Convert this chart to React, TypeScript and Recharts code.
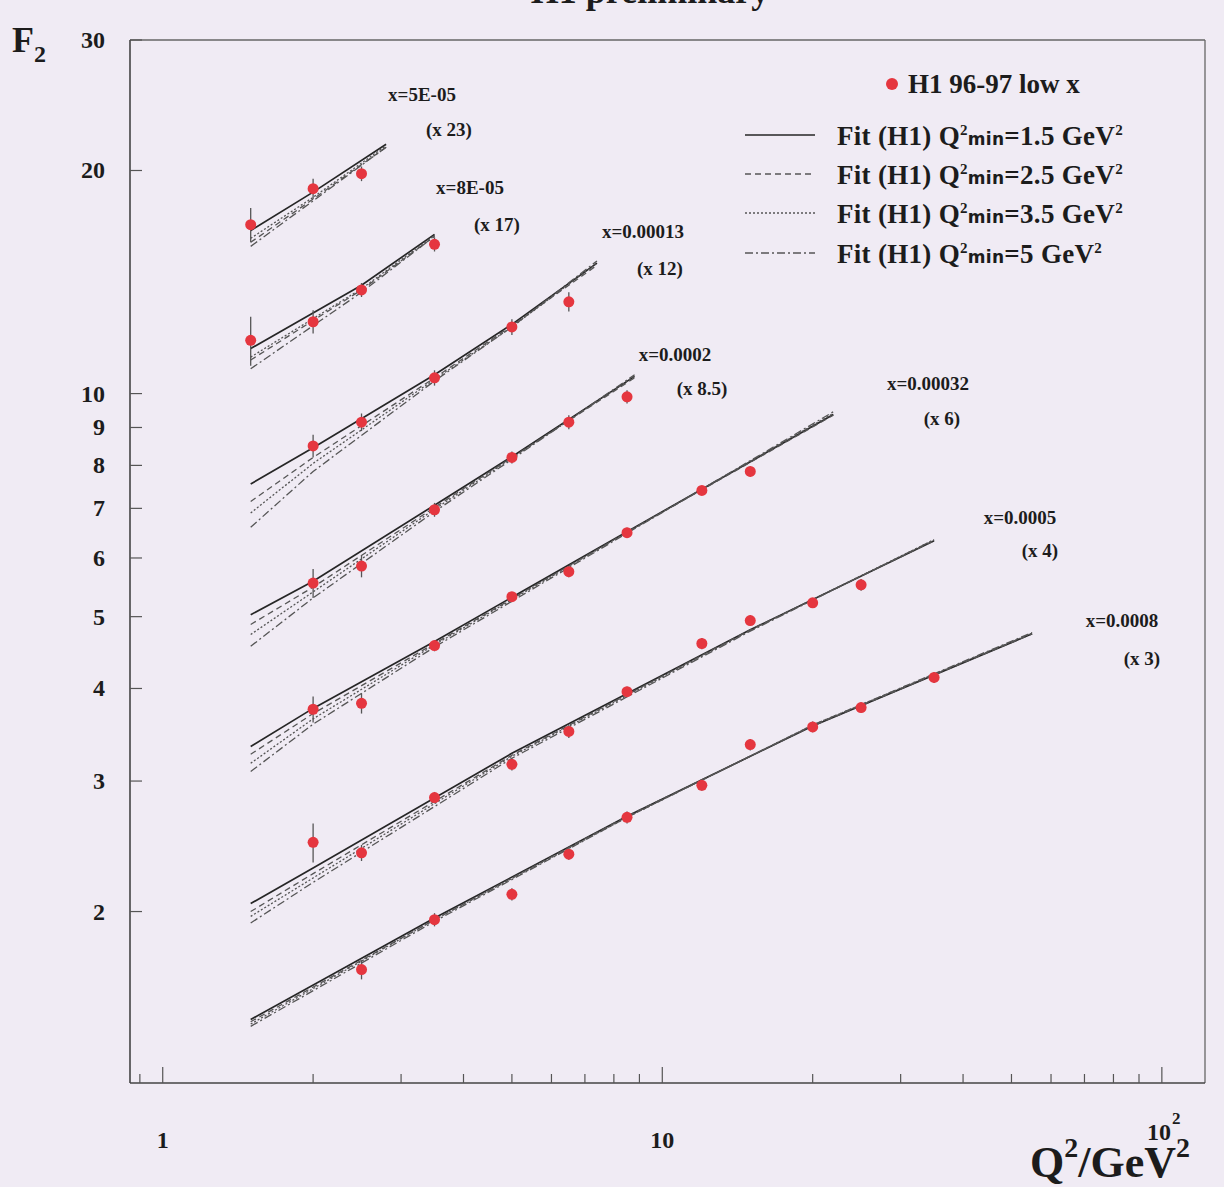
import { ComposedChart, Line, Scatter, XAxis, YAxis, ErrorBar, ReferenceLine } from 'recharts';

// bins in Bjorken x, each scaled for display
const binLabels = ['x=5E-05', 'x=8E-05', 'x=0.00013', 'x=0.0002', 'x=0.00032', 'x=0.0005', 'x=0.0008'];
const binScales = ['(x 23)', '(x 17)', '(x 12)', '(x 8.5)', '(x 6)', '(x 4)', '(x 3)'];

// H1 96-97 low x measurements
const dataQ2 = [
  [1.5, 2, 2.5],
  [1.5, 2, 2.5, 3.5],
  [2, 2.5, 3.5, 5, 6.5],
  [2, 2.5, 3.5, 5, 6.5, 8.5],
  [2, 2.5, 3.5, 5, 6.5, 8.5, 12, 15],
  [2, 2.5, 3.5, 5, 6.5, 8.5, 12, 15, 20, 25],
  [2.5, 3.5, 5, 6.5, 8.5, 12, 15, 20, 25, 35],
];
const dataF2 = [
  [16.9, 18.9, 19.8],
  [11.8, 12.5, 13.8, 15.9],
  [8.5, 9.15, 10.5, 12.3, 13.3],
  [5.55, 5.85, 6.97, 8.2, 9.15, 9.9],
  [3.75, 3.82, 4.57, 5.32, 5.75, 6.49, 7.4, 7.85],
  [2.48, 2.4, 2.85, 3.16, 3.5, 3.96, 4.6, 4.94, 5.22, 5.52],
  [1.67, 1.95, 2.11, 2.39, 2.68, 2.96, 3.36, 3.55, 3.77, 4.14],
];
const dataErr = [
  [0.9, 0.6, 0.45],
  [0.9, 0.45, 0.3, 0.35],
  [0.3, 0.25, 0.25, 0.3, 0.4],
  [0.25, 0.2, 0.15, 0.15, 0.2, 0.2],
  [0.15, 0.12, 0.08, 0.08, 0.1, 0.1, 0.1, 0.12],
  [0.15, 0.06, 0.05, 0.06, 0.07, 0.06, 0.08, 0.08, 0.08, 0.1],
  [0.05, 0.04, 0.04, 0.04, 0.05, 0.05, 0.06, 0.06, 0.06, 0.07],
];

// QCD fits, read at a few Q2 values per bin
const fitQ2 = [
  [1.5, 2, 2.8],
  [1.5, 2.5, 3.5],
  [1.5, 2, 3.5, 5, 7.4],
  [1.5, 2, 3.5, 5, 8.8],
  [1.5, 2, 3.5, 8.5, 22],
  [1.5, 2, 5, 15, 35],
  [1.5, 3.5, 8.5, 20, 55],
];
const fitQmin15 = [
  [16.6, 18.7, 21.7],
  [11.5, 14.0, 16.4],
  [7.55, 8.45, 10.6, 12.4, 15.0],
  [5.03, 5.58, 7.07, 8.22, 10.55],
  [3.34, 3.76, 4.63, 6.51, 9.37],
  [2.05, 2.29, 3.27, 4.8, 6.33],
  [1.43, 1.96, 2.69, 3.56, 4.74],
];
const fitQmin25 = [
  [16.0, 18.3, 21.5],
  [11.1, 13.8, 16.3],
  [7.15, 8.2, 10.5, 12.35, 14.9],
  [4.88, 5.48, 7.02, 8.2, 10.5],
  [3.26, 3.7, 4.6, 6.5, 9.35],
  [2.0, 2.25, 3.25, 4.8, 6.33],
  [1.42, 1.95, 2.69, 3.56, 4.74],
];
const fitQmin35 = [
  [16.2, 18.4, 21.6],
  [11.2, 13.85, 16.35],
  [6.9, 8.05, 10.45, 12.3, 15.0],
  [4.73, 5.4, 6.98, 8.18, 10.55],
  [3.17, 3.64, 4.58, 6.5, 9.4],
  [1.97, 2.22, 3.24, 4.79, 6.35],
  [1.41, 1.95, 2.68, 3.57, 4.75],
];
const fitQmin5 = [
  [15.8, 18.2, 21.5],
  [10.8, 13.7, 16.3],
  [6.6, 7.85, 10.4, 12.3, 15.1],
  [4.56, 5.3, 6.93, 8.15, 10.6],
  [3.09, 3.58, 4.55, 6.48, 9.45],
  [1.93, 2.19, 3.22, 4.78, 6.35],
  [1.4, 1.94, 2.68, 3.57, 4.76],
];
const fitQmins = ['1.5', '2.5', '3.5', '5'];

const xTicks = [0.9, 1, 2, 3, 4, 5, 6, 7, 8, 9, 10, 20, 30, 40, 50, 60, 70, 80, 90, 100];
const yTicks = [2, 3, 4, 5, 6, 7, 8, 9, 10, 20, 30];
const xDomain = [0.86, 122];
const yDomain = [1.174, 30];

const W = 1224;
const H = 1187;
const BG = '#f0ebf4';
const INK = '#1c1c1c';
const RED = '#e5363f';
const SERIF = "'Liberation Serif', 'DejaVu Serif', serif";

const fitStyles = [
  { color: '#262626', width: 1.7, dash: undefined as string | undefined },
  { color: '#555', width: 1.3, dash: '6 4' },
  { color: '#555', width: 1.3, dash: '2 2' },
  { color: '#555', width: 1.3, dash: '8 3 2 3' },
];
const fitSets = [fitQmin15, fitQmin25, fitQmin35, fitQmin5];

const labelPos = [
  [422, 95, 449, 130],
  [470, 188, 497, 225],
  [643, 232, 660, 269],
  [675, 355, 702, 389],
  [928, 384, 942, 419],
  [1020, 518, 1040, 551],
  [1122, 621, 1142, 659],
];
const legendRows = [130, 169, 208, 248];

const XTick = (props: any) => {
  const { x, y, payload } = props;
  const v = payload.value;
  const major = v === 1 || v === 10 || v === 100;
  return (
    <g>
      <line x1={x} x2={x} y1={y} y2={y - (major ? 16 : 9)} stroke="#555" strokeWidth={1.2} />
      {(v === 1 || v === 10) && (
        <text x={x} y={y + 65} textAnchor="middle" fontFamily={SERIF} fontWeight="bold" fontSize={24} fill={INK}>
          {v}
        </text>
      )}
      {v === 100 && (
        <text x={x + 2} y={y + 57} textAnchor="middle" fontFamily={SERIF} fontWeight="bold" fontSize={24} fill={INK}>
          10
          <tspan dx={1} dy={-16} fontSize={17}>2</tspan>
        </text>
      )}
    </g>
  );
};

const YTick = (props: any) => {
  const { x, y, payload } = props;
  return (
    <g>
      <line x1={x} x2={x + 12} y1={y} y2={y} stroke="#555" strokeWidth={1.2} />
      <text x={x - 25} y={y + 8} textAnchor="end" fontFamily={SERIF} fontWeight="bold" fontSize={24} fill={INK}>
        {payload.value}
      </text>
    </g>
  );
};

const FitText = ({ qmin }: { qmin: string }) => (
  <span>
    Fit (H1) Q<sup style={{ fontSize: 15, verticalAlign: 10 }}>2</sup>
    <span style={{ fontSize: 17, fontFamily: "'DejaVu Sans', sans-serif" }}>min</span>={qmin} GeV
    <sup style={{ fontSize: 15, verticalAlign: 10 }}>2</sup>
  </span>
);

const supStyle = { position: 'relative' as const, top: -20, fontSize: 28 };

export default function App() {
  const dots = (p: any) => <circle cx={p.cx} cy={p.cy} r={5.5} fill={RED} />;
  return (
    <div style={{ position: 'absolute', top: 0, left: 0, width: W, height: H, background: BG, overflow: 'hidden' }}>
      <ComposedChart width={W} height={H} margin={{ top: 40, right: 19, bottom: 0, left: 0 }}>
        <XAxis
          dataKey="q2"
          type="number"
          scale="log"
          domain={xDomain}
          allowDataOverflow
          ticks={xTicks}
          interval={0}
          tick={XTick}
          tickLine={false}
          tickSize={0}
          tickMargin={0}
          height={104}
          axisLine={{ stroke: '#444', strokeWidth: 1.6 }}
        />
        <YAxis
          dataKey="f2"
          type="number"
          scale="log"
          domain={yDomain}
          allowDataOverflow
          ticks={yTicks}
          interval={0}
          tick={YTick}
          tickLine={false}
          tickSize={0}
          tickMargin={0}
          width={130}
          axisLine={{ stroke: '#444', strokeWidth: 1.6 }}
        />
        <ReferenceLine y={yDomain[1]} stroke="#666" strokeWidth={1.3} />
        <ReferenceLine x={xDomain[1]} stroke="#666" strokeWidth={1.3} />
        {fitSets.map((set, f) =>
          set.map((vals, i) => (
            <Line
              key={`fit-${f}-${i}`}
              data={fitQ2[i].map((q, j) => ({ q2: q, f2: vals[j] }))}
              dataKey="f2"
              type="linear"
              stroke={fitStyles[f].color}
              strokeWidth={fitStyles[f].width}
              strokeDasharray={fitStyles[f].dash}
              dot={false}
              activeDot={false}
              isAnimationActive={false}
            />
          ))
        )}
        {dataQ2.map((qs, i) => (
          <Scatter
            key={`data-${i}`}
            data={qs.map((q, j) => ({ q2: q, f2: dataF2[i][j], err: dataErr[i][j] }))}
            dataKey="f2"
            shape={dots}
            isAnimationActive={false}
          >
            <ErrorBar dataKey="err" direction="y" width={0} stroke="#555" strokeWidth={1.3} />
          </Scatter>
        ))}
      </ComposedChart>

      {/* title, cut off at the top of the page as in the original */}
      <div style={{ position: 'absolute', top: -30, left: 440, width: 420, textAlign: 'center', fontFamily: SERIF, fontWeight: 'bold', fontSize: 36, color: INK }}>
        H1 preliminary
      </div>

      {/* y axis title */}
      <div style={{ position: 'absolute', top: 20, left: 12, fontFamily: SERIF, fontWeight: 'bold', fontSize: 36, color: INK, lineHeight: '40px' }}>
        F<sub style={{ fontSize: 24, verticalAlign: -10 }}>2</sub>
      </div>

      {/* x axis title */}
      <div style={{ position: 'absolute', top: 1141, left: 1030, fontFamily: SERIF, fontWeight: 'bold', fontSize: 44, color: INK, lineHeight: '44px', whiteSpace: 'nowrap' }}>
        Q<span style={supStyle}>2</span>/GeV<span style={supStyle}>2</span>
      </div>

      {/* bin annotations */}
      {binLabels.map((lab, i) => (
        <div key={`lab-${i}`}>
          <div style={{ position: 'absolute', left: labelPos[i][0] - 80, top: labelPos[i][1] - 12, width: 160, textAlign: 'center', fontFamily: SERIF, fontWeight: 'bold', fontSize: 19, color: INK, lineHeight: '24px' }}>
            {lab}
          </div>
          <div style={{ position: 'absolute', left: labelPos[i][2] - 60, top: labelPos[i][3] - 12, width: 120, textAlign: 'center', fontFamily: SERIF, fontWeight: 'bold', fontSize: 19, color: INK, lineHeight: '24px' }}>
            {binScales[i]}
          </div>
        </div>
      ))}

      {/* legend */}
      <div style={{ position: 'absolute', top: 84 - 16, left: 886, fontFamily: SERIF, fontWeight: 'bold', fontSize: 27, color: INK, lineHeight: '32px', whiteSpace: 'nowrap' }}>
        <span style={{ display: 'inline-block', width: 12, height: 12, borderRadius: 6, background: RED, marginRight: 10, verticalAlign: 3 }} />
        H1 96-97 low x
      </div>
      {fitQmins.map((q, f) => (
        <div key={`leg-${f}`} style={{ position: 'absolute', top: legendRows[f] - 16, left: 745, fontFamily: SERIF, fontWeight: 'bold', fontSize: 27, letterSpacing: 0.3, color: INK, lineHeight: '32px', whiteSpace: 'nowrap', display: 'flex', alignItems: 'center' }}>
          <svg width={70} height={10} style={{ marginRight: 22 }}>
            <line x1={0} x2={70} y1={5} y2={5} stroke={fitStyles[f].color} strokeWidth={fitStyles[f].width} strokeDasharray={fitStyles[f].dash} />
          </svg>
          <FitText qmin={q} />
        </div>
      ))}
    </div>
  );
}
